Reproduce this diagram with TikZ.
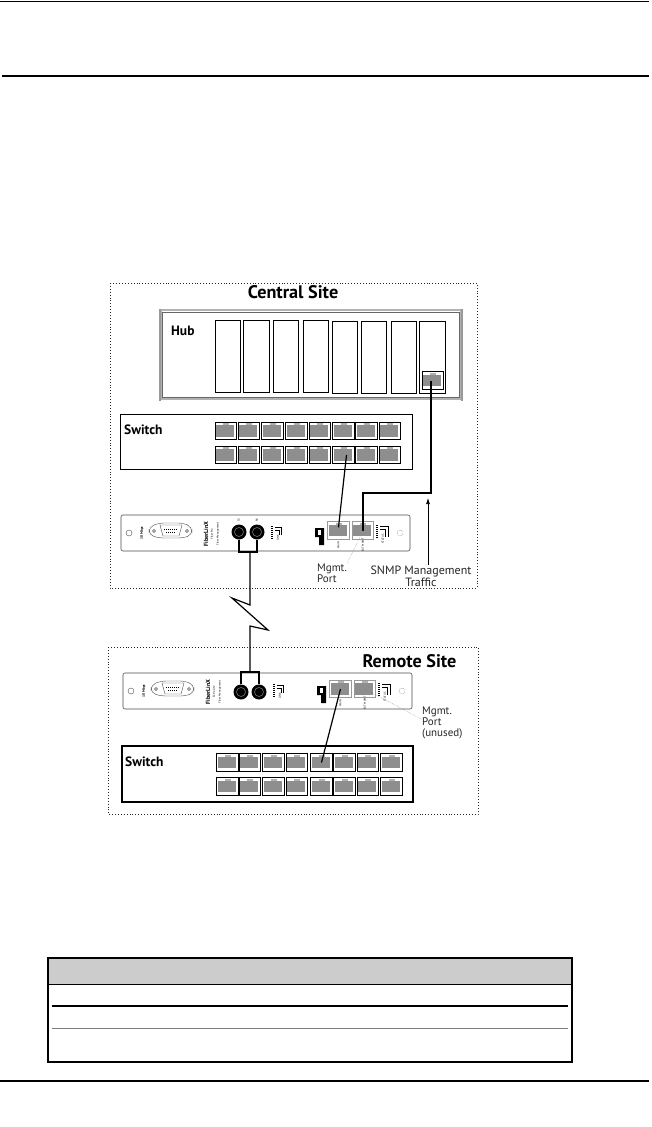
\documentclass[tikz,border=0pt]{standalone}
\usepackage{fontspec}
\setmainfont{PT Sans}
\usetikzlibrary{arrows.meta,calc}
\definecolor{jackgray}{HTML}{8E8E8E}
\definecolor{tablehead}{HTML}{CCCCCC}

\begin{document}
\begin{tikzpicture}[
            x=1pt, y=-1pt,
            every node/.style={inner sep=0pt},
            rule/.style={draw=black, line width=1.5pt},
            site/.style={draw=black!85, line width=0.9pt, dotted},
            box/.style={draw=black, line width=0.7pt},
            panel/.style={draw=black!70, line width=0.6pt, rounded corners=2pt},
            link/.style={draw=black, line width=1.2pt},
            thicklink/.style={draw=black, line width=1.7pt},
            leader/.style={draw=black!50, line width=0.4pt, densely dotted},
            slot/.style={rectangle, draw=black, line width=0.6pt, fill=white,
                    minimum width=25.5, minimum height=72},
            jack/.style={rectangle, draw=black, line width=0.6pt, fill=white,
                    minimum width=21.5, minimum height=17.5,
                    path picture={
                            \fill[jackgray] ([xshift=1pt,yshift=-3pt]path picture bounding box.north west)
                            rectangle ([xshift=-2.5pt,yshift=3pt]path picture bounding box.south east);
                            \fill[jackgray!70] ([xshift=-3pt,yshift=-1pt]path picture bounding box.north)
                            rectangle ([xshift=3pt,yshift=-3pt]path picture bounding box.north);
                        }},
            panelport/.style={jack, draw=black!40, line width=0.9pt},
            fiberjack/.style={circle, fill=black, minimum size=15,
                    path picture={
                            \draw[black!55, line width=0.6pt] (path picture bounding box.center) circle (4.5pt);
                        }},
            title/.style={font=\fontsize{18.2}{20}\selectfont\bfseries},
            devlab/.style={font=\fontsize{13.5}{15}\selectfont\bfseries, anchor=west},
            note/.style={font=\fontsize{11}{11}\selectfont, text=black!85},
            tiny/.style={font=\fontsize{2.8}{3}\selectfont, rotate=90}
        ]
        \useasboundingbox (0,0) rectangle (652,1127);
        \fill[white] (0,0) rectangle (652,1127);

        % drawn the same on both sites, origin at the panel's top left
        \def\Lpanel{%
            \draw[panel] (0,0) rectangle (289,36);
            \draw[black!70, line width=0.4pt] (8,18) circle (3);
            \draw[black!70, line width=0.4pt, rounded corners=5pt] (28,12) -- (38,8) -- (62,8) -- (71,12) -- (71,20) -- (62,23) -- (38,23) -- (28,20) -- cycle;
            \draw[black!70, line width=0.4pt] (39,10) -- (61,10) -- (58,21) -- (42,21) -- cycle;
            \draw[black, line width=0.9pt, dash pattern=on 1pt off 1pt] (43,14) -- (57,14);
            \draw[black, line width=0.9pt, dash pattern=on 1pt off 1pt] (45,17.5) -- (55,17.5);
            \draw[black!70, line width=0.4pt] (33,16) circle (1.5) (66,16) circle (1.5);
            \node[tiny, font=\fontsize{3.5}{4}\selectfont\bfseries] (rate) at (21,18) {10 Mbps};
            \node[tiny, font=\fontsize{6}{6}\selectfont\bfseries] (brand) at (85,19) {FiberLinX};
            \node[tiny] (duty) at (97,19) {Fiber Management};
            \draw[black, line width=1.1pt, dash pattern=on 1pt off 1pt] (151,11) -- (151,24);
            \draw[black, line width=0.5pt] (154,12) -- (160,12) -- (160,20) (154,15) -- (158,15) -- (158,20);
            \node[tiny] (fibled) at (157,23) {LINK};
            \fill[black] (194,13) -- (203,13) -- (203,30) -- (198,30) -- (198,22) -- (194,22) -- cycle;
            \fill[white] (197,15) rectangle (200,20);
            \draw[black, line width=1.1pt, dash pattern=on 1pt off 1pt] (256,10) -- (256,24);
            \draw[black, line width=0.5pt] (259,11) -- (267,11) -- (267,22) (259,14) -- (264,14) -- (264,22);
            \node[tiny] (mgtled) at (262,24) {STATUS};
            \draw[black!70, line width=0.4pt, densely dotted] (279,18) circle (3);
        }

        % =============== top and bottom rules ===============
        \draw[rule, line width=1pt] (0,1) -- (649,1);
        \draw[rule] (2,76) -- (649,76);
        \draw[rule] (0,1081) -- (649,1081);

        % =============== central site ===============
        \draw[site] (110,283) rectangle (477,588);
        \node[title] (centraltitle) at (293,292) {Central Site};

        \draw[black!30, line width=1.3pt] (161,310) rectangle (461,399);
        \draw[black!60, line width=0.3pt] (162.5,312) rectangle (459.5,397);
        \draw[black!40, line width=1.5pt] (160,309) -- (160,401);
        \draw[black!40, line width=1.5pt] (462,309) -- (462,401);
        \node[devlab] (hublab) at (171,331) {Hub};
        \node[slot] (slota) at (228,356) {};
        \node[slot] (slotb) at (256.5,356) {};
        \node[slot] (slotc) at (286,356) {};
        \node[slot] (slotd) at (316,356) {};
        \node[slot] (slote) at (345,357.5) {};
        \node[slot] (slotf) at (374,357.5) {};
        \node[slot] (slotg) at (404,357.5) {};
        \node[slot] (sloth) at (432.5,357.5) {};
        \node[jack, line width=0.8pt] (hubjack) at (433,380.5) {};

        \draw[box] (120,414) rectangle (412,469);
        \node[devlab] (cswlab) at (124,430) {Switch};
        \node[jack] (cswa1) at (226,431) {};
        \node[jack] (cswa2) at (249,431) {};
        \node[jack] (cswa3) at (272.5,431) {};
        \node[jack] (cswa4) at (296.5,431) {};
        \node[jack] (cswa5) at (320,431) {};
        \node[jack] (cswa6) at (343.5,431) {};
        \node[jack] (cswa7) at (366.5,431) {};
        \node[jack] (cswa8) at (390,431) {};
        \node[jack] (cswb1) at (226,455) {};
        \node[jack] (cswb2) at (249,455) {};
        \node[jack] (cswb3) at (272.5,455) {};
        \node[jack] (cswb4) at (296.5,455) {};
        \node[jack] (cswb5) at (320,455) {};
        \node[jack] (cswb6) at (343.5,455) {};
        \node[jack] (cswb7) at (366.5,455) {};
        \node[jack] (cswb8) at (390,455) {};

        \begin{scope}[shift={(121,515)}]
            \Lpanel
            \node[tiny] (cmodel) at (91,19) {Fiber Pro};
            \node[fiberjack] (cfiba) at (118,17) {};
            \node[fiberjack] (cfibb) at (136,17) {};
            \node[tiny] (ctx) at (118,5) {TX};
            \node[tiny] (crx) at (136,5) {RX};
            \node[panelport] (cmain) at (217.5,15.5) {};
            \node[panelport] (cext) at (242,15.5) {};
            \node[tiny] (cmainlab) at (217.5,30) {MAIN};
            \node[tiny] (cextlab) at (242,30) {EXT MGMT};
        \end{scope}

        \node[note, align=left, anchor=west] (cmgmtlab) at (317,573) {Mgmt.\\Port};
        \node[note, font=\fontsize{12}{12}\selectfont, align=center] (snmplab) at (421,576) {SNMP Management\\Traffic};
        \coordinate (trafficbend) at (431,493);
        \coordinate (snmptip) at (428,498);

        \draw[link] ([xshift=3pt]cswb6.center) -- ([yshift=-6pt]cmain.north);
        \draw[thicklink] (trafficbend |- hubjack.center) -- (trafficbend) -| (cext.center);
        \draw[-{Latex[length=6pt,width=4pt]}, black, line width=0.7pt] (snmplab.north -| snmptip) -- (snmptip);
        \draw[leader] (cext.center) -- (cmgmtlab.north east);

        % =============== remote site ===============
        \draw[site] (108,647) rectangle (478,814);
        \node[title] (remotetitle) at (409.5,661) {Remote Site};

        \begin{scope}[shift={(123,673)}]
            \Lpanel
            \node[tiny] (rmodel) at (91,19) {Extra Lite};
            \node[fiberjack] (rfiba) at (118,19) {};
            \node[fiberjack] (rfibb) at (136,19) {};
            \node[panelport] (rmain) at (217.5,16) {};
            \node[panelport] (rext) at (242,16) {};
            \node[tiny] (rmainlab) at (217.5,30) {MAIN};
            \node[tiny] (rextlab) at (242,30) {EXT MGMT};
        \end{scope}

        \draw[box, line width=1.3pt] (122,746) rectangle (413,802);
        \node[devlab] (rswlab) at (125,762) {Switch};
        \node[jack] (rswa1) at (227.5,762.5) {};
        \node[jack] (rswa2) at (250,762.5) {};
        \node[jack] (rswa3) at (273.5,762.5) {};
        \node[jack] (rswa4) at (297,762.5) {};
        \node[jack] (rswa5) at (321.5,762.5) {};
        \node[jack] (rswa6) at (344.5,762.5) {};
        \node[jack] (rswa7) at (368,762.5) {};
        \node[jack] (rswa8) at (391.5,762.5) {};
        \node[jack] (rswb1) at (227.5,786.5) {};
        \node[jack] (rswb2) at (250,786.5) {};
        \node[jack] (rswb3) at (273.5,786.5) {};
        \node[jack] (rswb4) at (297,786.5) {};
        \node[jack] (rswb5) at (321.5,786.5) {};
        \node[jack] (rswb6) at (344.5,786.5) {};
        \node[jack] (rswb7) at (368,786.5) {};
        \node[jack] (rswb8) at (391.5,786.5) {};

        \node[note, align=left, anchor=west] (rmgmtlab) at (422,723) {Mgmt.\\Port\\(unused)};

        \draw[link] (rmain.center) -- (rswa5.center);
        \draw[leader] (rext.center) -- (rmgmtlab.170);

        % =============== wide-area link between the sites ===============
        \coordinate (cfork) at (250,552);
        \coordinate (rfork) at (250,672);
        \coordinate (boltstart) at (250,605);
        \coordinate (bolta) at (232,598);
        \coordinate (boltb) at (268,630);
        \coordinate (boltend) at (250,626);
        \draw[link] (cfiba.south) |- (cfork) -| (cfibb.south);
        \draw[link] (rfiba.north) |- (rfork) -| (rfibb.north);
        \draw[link, line join=miter] (cfork) -- (boltstart) -- (bolta) -- (boltb) -- (boltend) -- (rfork);

        % =============== table ===============
        \fill[tablehead] (48,958) rectangle (572,984);
        \draw[black, line width=0.8pt] (48,984) -- (572,984);
        \draw[black, line width=1.6pt] (52,1006) -- (568,1006);
        \draw[black!50, line width=0.8pt] (52,1028) -- (568,1028);
        \draw[black, line width=1.6pt] (48,958) rectangle (572,1062);

    \end{tikzpicture}
\end{document}
